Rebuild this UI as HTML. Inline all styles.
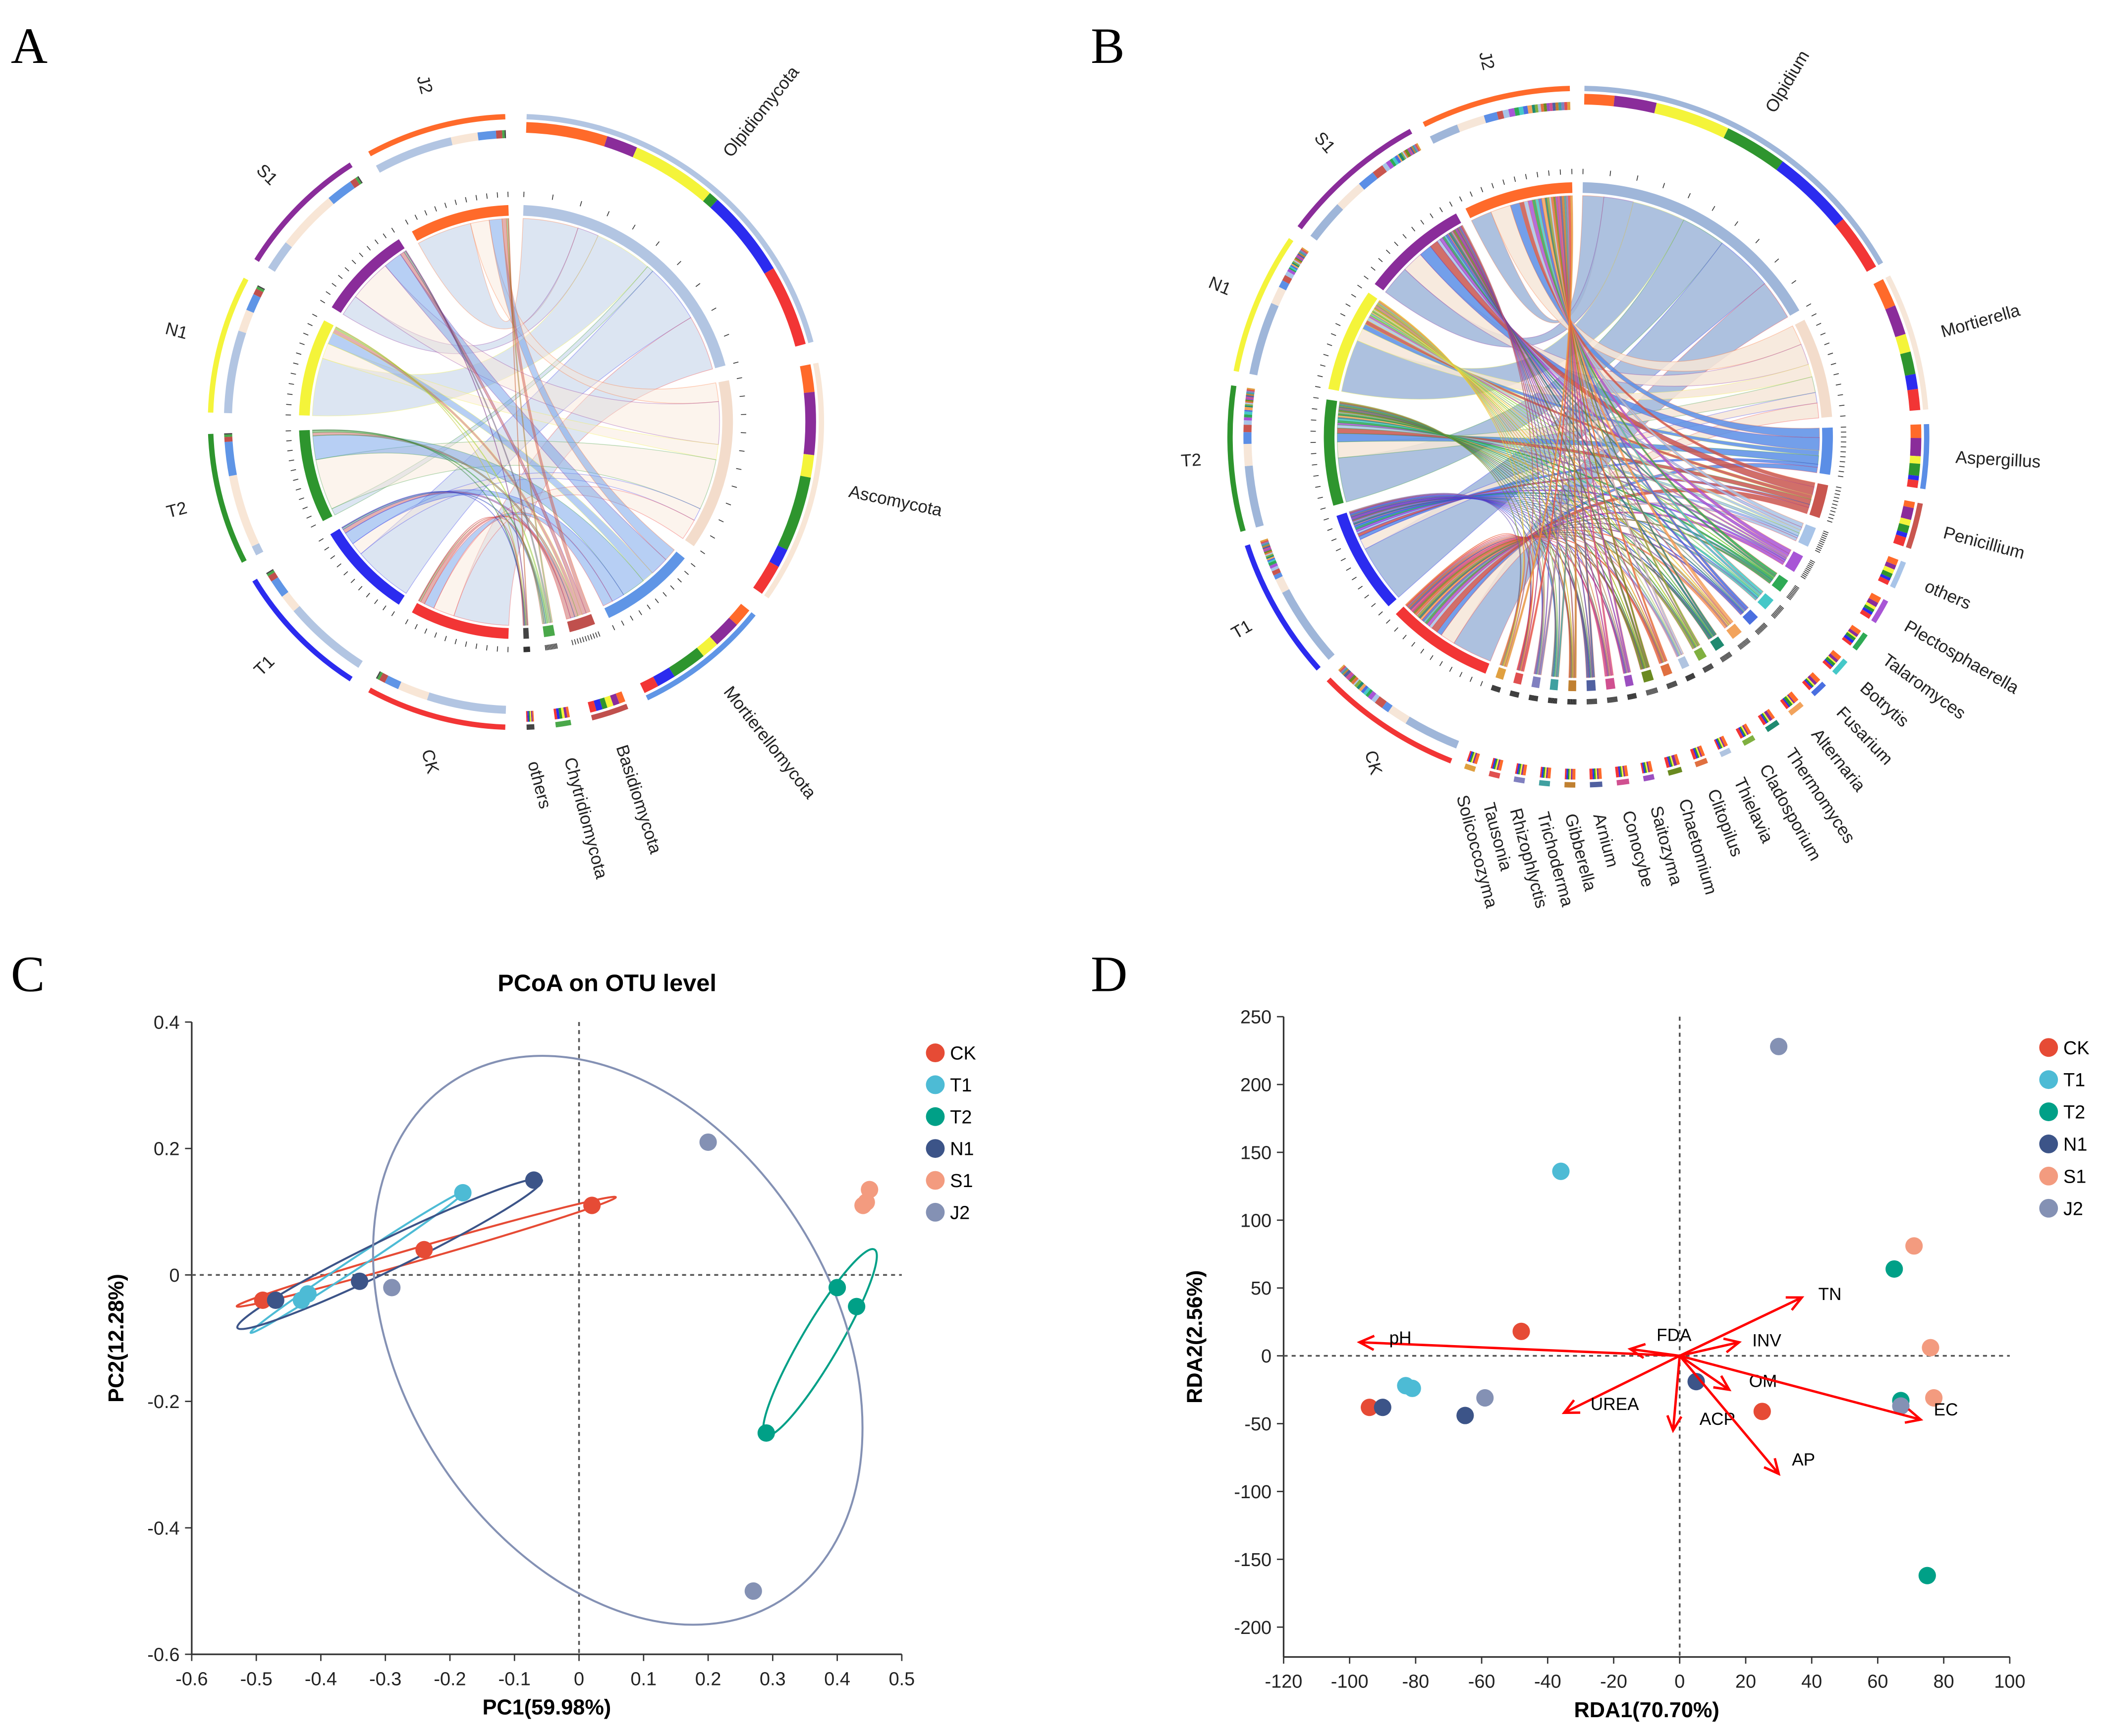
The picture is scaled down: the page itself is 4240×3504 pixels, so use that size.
<!DOCTYPE html>
<html><head><meta charset="utf-8">
<style>
html,body{margin:0;padding:0;background:#fff;}
svg{display:block;font-family:"Liberation Sans",Arial,sans-serif;}
</style></head>
<body>
<svg id="fig" width="4240" height="3504" viewBox="0 0 1568 1296" xmlns="http://www.w3.org/2000/svg">
<rect x="0" y="0" width="1568" height="1296" fill="#fff"/>
<g font-family="Liberation Serif,serif" font-size="38">
<text x="8" y="47">A</text>
<text x="814" y="47">B</text>
<text x="8" y="740">C</text>
<text x="814" y="740">D</text>
</g>
<g id="chordA"></g>
<g id="chordB"></g>
<g id="pcoa"></g>
<g id="rda"></g>
</svg>
<script>
// ---------- DATA ----------
const samples = ['CK','T1','T2','N1','S1','J2'];
const sampleColors = ['#f23535','#2b2bef','#2e952e','#f4f43a','#8a2c9a','#ff6a2a'];

const phylaA = ['Olpidiomycota','Ascomycota','Mortierellomycota','Basidiomycota','Chytridiomycota','others'];
const phylaColorsA = ['#b2c5e2','#f8e6d6','#5f95e6','#c0504d','#4aa84a','#444444'];
const abundA_CK = [65,25,12,5,2,1];
const abundA_T1 = [70,15,15,5,2,1];
const abundA_T2 = [8,60,28,4,2,1];
const abundA_N1 = [68,18,14,5,2,1];
const abundA_S1 = [25,50,22,5,2,1];
const abundA_J2 = [65,22,15,5,2,1];

const generaB = ['Olpidium','Mortierella','Aspergillus','Penicillium','others','Plectosphaerella','Talaromyces','Botrytis','Fusarium','Alternaria','Thermomyces','Cladosporium','Thielavia','Clitopilus','Chaetomium','Saitozyma','Conocybe','Arnium','Gibberella','Trichoderma','Rhizophlyctis','Tausonia','Solicoccozyma'];
const generaColorsB = ['#9fb6d9','#f6e6d8','#5b8ee6','#c9564f','#a8c4e8','#a855d6','#2eaa55','#45c8c8','#4a6fe0','#f2a35c','#1f8a70','#80b040','#b0c4e0','#e07040','#6a8a20','#9b4fc0','#d05090','#5060a0','#c08030','#40a0a0','#8080c0','#e05050','#e0a040'];
const abundB_CK = [38,14,5,6,3,3,2,2,2,2,2,2,1,2,2,1,2,2,1,1,1,1,1];
const abundB_T1 = [55,10,3,3,2,2,2,1,1,1,1,1,1,1,1,1,1,1,1,1,1,1,1];
const abundB_T2 = [42,15,8,5,3,2,2,2,1,2,1,1,1,1,1,1,1,1,1,1,1,1,1];
const abundB_N1 = [50,12,5,4,3,2,1,1,1,1,1,1,1,1,1,1,1,1,1,1,1,1,1];
const abundB_S1 = [28,20,12,8,3,3,2,2,2,1,2,1,1,1,2,1,1,1,1,1,1,1,1];
const abundB_J2 = [20,19,9,4,4,4,3,3,3,3,2,2,2,2,2,2,2,2,2,2,2,2,2];

// PCoA
const pcoaTicksX = [-0.6,-0.5,-0.4,-0.3,-0.2,-0.1,0,0.1,0.2,0.3,0.4,0.5];
const pcoaTicksY = [0.4,0.2,0,-0.2,-0.4,-0.6];
const pc1_CK = [-0.49,-0.24,0.02], pc2_CK = [-0.04,0.04,0.11];
const pc1_T1 = [-0.43,-0.42,-0.18], pc2_T1 = [-0.04,-0.03,0.13];
const pc1_T2 = [0.40,0.43,0.29], pc2_T2 = [-0.02,-0.05,-0.25];
const pc1_N1 = [-0.47,-0.34,-0.07], pc2_N1 = [-0.04,-0.01,0.15];
const pc1_S1 = [0.44,0.445,0.45], pc2_S1 = [0.11,0.115,0.135];
const pc1_J2 = [0.20,-0.29,0.27], pc2_J2 = [0.21,-0.02,-0.50];

// RDA
const rdaTicksX = [-120,-100,-80,-60,-40,-20,0,20,40,60,80,100];
const rdaTicksY = [250,200,150,100,50,0,-50,-100,-150,-200];
const rda1_CK = [-94,-48,25], rda2_CK = [-38,18,-41];
const rda1_T1 = [-83,-81,-36], rda2_T1 = [-22,-24,136];
const rda1_T2 = [65,67,75], rda2_T2 = [64,-33,-162];
const rda1_N1 = [-90,-65,5], rda2_N1 = [-38,-44,-19];
const rda1_S1 = [71,76,77], rda2_S1 = [81,6,-31];
const rda1_J2 = [-59,67,30], rda2_J2 = [-31,-37,228];
const envNames = ['pH','FDA','INV','TN','OM','UREA','ACP','AP','EC'];
const envX = [-97,-15,18,37,15,-35,-2,30,73];
const envY = [10,5,10,43,-25,-42,-55,-87,-47];
const envLabelX = [-88,-7,22,42,21,-27,6,34,77];
const envLabelY = [14,16,12,46,-18,-35,-46,-76,-39];

// ---------- HELPERS ----------
const NS='http://www.w3.org/2000/svg';
function mk(parent, tag, attrs, text){
  const e=document.createElementNS(NS,tag);
  for(const k in attrs) e.setAttribute(k,attrs[k]);
  if(text!==undefined) e.textContent=text;
  parent.appendChild(e); return e;
}
function pol(cx,cy,r,a){const t=a*Math.PI/180;return [cx+r*Math.sin(t),cy-r*Math.cos(t)];}
function band(cx,cy,r1,r2,a1,a2){
  const p1=pol(cx,cy,r2,a1),p2=pol(cx,cy,r2,a2),p3=pol(cx,cy,r1,a2),p4=pol(cx,cy,r1,a1);
  const lg=(a2-a1)>180?1:0;
  return `M${p1}A${r2},${r2} 0 ${lg} 1 ${p2}L${p3}A${r1},${r1} 0 ${lg} 0 ${p4}Z`;
}
function ribbon(cx,cy,r,a1,a2,b1,b2){
  const P=(a)=>pol(cx,cy,r,a);
  return `M${P(a1)}A${r},${r} 0 0 1 ${P(a2)}Q${cx},${cy} ${P(b1)}A${r},${r} 0 0 1 ${P(b2)}Q${cx},${cy} ${P(a1)}Z`;
}

function chord(g,o){
  const {cx,cy,R,taxa,tcol,rows,start,gap,ribOp,labelFs}=o;
  const nT=taxa.length,nS=samples.length;
  const tTot=taxa.map((_,j)=>rows.reduce((s,r)=>s+r[j],0));
  const sTot=rows.map(r=>r.reduce((s,v)=>s+v,0));
  const total=tTot.reduce((a,b)=>a+b,0)+sTot.reduce((a,b)=>a+b,0);
  const per=(360-gap*(nT+nS))/total;
  let a=start; const tSeg=[],sSeg=[];
  for(let j=0;j<nT;j++){tSeg.push([a,a+tTot[j]*per]);a+=tTot[j]*per+gap;}
  for(let i=0;i<nS;i++){sSeg.push([a,a+sTot[i]*per]);a+=sTot[i]*per+gap;}
  const sCur=sSeg.map(s=>s[0]); const tCur=tSeg.map(t=>t[0]);
  const rib=mk(g,'g',{});
  
  
  const tStack=[];
  for(let j=0;j<nT;j++){
    for(let i=nS-1;i>=0;i--){
      const w=rows[i][j]*per; if(w<=0) continue;
      const a1=sCur[i],a2=a1+w; sCur[i]=a2;
      const b1=tCur[j],b2=b1+w; tCur[j]=b2;
      tStack.push([j,i,b1,b2]);
      const p=mk(rib,'path',{d:ribbon(cx,cy,R,a1,a2,b1,b2),fill:tcol[j],'fill-opacity':ribOp,stroke:sampleColors[i],'stroke-opacity':0.35,'stroke-width':0.5});
      
      
    }
  }
  for(let j=0;j<nT;j++){
    const [a1,a2]=tSeg[j];
    const p=mk(g,'path',{d:band(cx,cy,R+2,R+10,a1,a2),fill:tcol[j]==='#f8e6d6'||tcol[j]==='#f6e6d8'?'#f3dccb':tcol[j]});
    
    
    const q=mk(g,'path',{d:band(cx,cy,o.ro1+10,o.ro2+6,a1,a2),fill:tcol[j]});
    
    
    for(let k=0;k<=10;k++){
      const ang=a1+(a2-a1)*k/10;
      const p1=pol(cx,cy,R+16,ang),p2=pol(cx,cy,R+20,ang);
      mk(g,'line',{x1:p1[0],y1:p1[1],x2:p2[0],y2:p2[1],stroke:'#333','stroke-width':0.6});
    }
  }
  tStack.forEach(([j,i,b1,b2])=>{
    const p=mk(g,'path',{d:band(cx,cy,o.ro1,o.ro2,b1,b2),fill:sampleColors[i]});
    
    
  });
  for(let i=0;i<nS;i++){
    const [a1,a2]=sSeg[i];
    const p=mk(g,'path',{d:band(cx,cy,R+2,R+10,a1,a2),fill:sampleColors[i]});
    
    
    const q=mk(g,'path',{d:band(cx,cy,o.ro1+10,o.ro2+6,a1,a2),fill:sampleColors[i]});
    
    
    let c=a1;
    for(let j=0;j<nT;j++){
      const w=rows[i][j]*per;
      mk(g,'path',{d:band(cx,cy,o.ro1-4,o.ro1+2,c,c+w),fill:tcol[j]});
      c+=w;
    }
    for(let k=0;k<=10;k++){
      const ang=a1+(a2-a1)*k/10;
      const p1=pol(cx,cy,R+16,ang),p2=pol(cx,cy,R+20,ang);
      mk(g,'line',{x1:p1[0],y1:p1[1],x2:p2[0],y2:p2[1],stroke:'#333','stroke-width':0.6});
    }
  }
  const lab=(name,a1,a2)=>{
    const m=(a1+a2)/2; const p=pol(cx,cy,o.rl,m);
    let rot=m-90, anchor='start';
    if(m>215){rot=m+90;anchor='end';}
    else if(rot>75){rot=75;}
    const t=mk(g,'text',{x:p[0],y:p[1],'font-size':labelFs,'text-anchor':anchor,'dominant-baseline':'middle',transform:`rotate(${rot} ${p[0]} ${p[1]})`,fill:'#222'},name);
    
    
  };
  taxa.forEach((n,j)=>lab(n,tSeg[j][0],tSeg[j][1]));
  samples.forEach((n,i)=>lab(n,sSeg[i][0],sSeg[i][1]));
}

chord(document.getElementById('chordA'),{cx:385,cy:315,R:152,taxa:phylaA,tcol:phylaColorsA,
  rows:[abundA_CK,abundA_T1,abundA_T2,abundA_N1,abundA_S1,abundA_J2],start:2,gap:4,ribOp:0.45,
  ro1:216,ro2:224,rl:254,labelFs:13});
chord(document.getElementById('chordB'),{cx:1178,cy:326,R:180,taxa:generaB,tcol:generaColorsB,
  rows:[abundB_CK,abundB_T1,abundB_T2,abundB_N1,abundB_S1,abundB_J2],start:1,gap:2.4,ribOp:0.85,
  ro1:248,ro2:256,rl:282,labelFs:13});

// ---------- SCATTER ----------
function scatter(g,o){
  const sx=v=>o.x0+(v-o.xmin)/(o.xmax-o.xmin)*(o.x1-o.x0);
  const sy=v=>o.y0+(o.ymax-v)/(o.ymax-o.ymin)*(o.y1-o.y0);
  mk(g,'line',{x1:o.x0,y1:o.y0,x2:o.x0,y2:o.y1,stroke:'#333','stroke-width':1.2});
  mk(g,'line',{x1:o.x0,y1:o.y1,x2:o.x1,y2:o.y1,stroke:'#333','stroke-width':1.2});
  o.tx.forEach(v=>{
    const x=sx(v);
    mk(g,'line',{x1:x,y1:o.y1,x2:x,y2:o.y1+5,stroke:'#333'});
    const t=mk(g,'text',{x:x,y:o.y1+23,'font-size':14,'text-anchor':'middle',fill:'#222'},String(v));
    
    
  });
  o.ty.forEach(v=>{
    const y=sy(v);
    mk(g,'line',{x1:o.x0-5,y1:y,x2:o.x0,y2:y,stroke:'#333'});
    const t=mk(g,'text',{x:o.x0-9,y:y+5,'font-size':14,'text-anchor':'end',fill:'#222'},String(v));
    
    
  });
  mk(g,'line',{x1:sx(0),y1:o.y0,x2:sx(0),y2:o.y1,stroke:'#555','stroke-dasharray':'3,3','stroke-width':1.3});
  mk(g,'line',{x1:o.x0,y1:sy(0),x2:o.x1,y2:sy(0),stroke:'#555','stroke-dasharray':'3,3','stroke-width':1.3});
  const xt=mk(g,'text',{x:(o.x0+o.x1)/2,y:o.y1+45,'font-size':16,'font-weight':'bold','text-anchor':'middle'},o.xlabel);
  
  
  const yx=o.ylx, yy=(o.y0+o.y1)/2;
  const yt=mk(g,'text',{x:yx,y:yy,'font-size':16,'font-weight':'bold','text-anchor':'middle',transform:`rotate(-90 ${yx} ${yy})`},o.ylabel);
  
  
  return {sx,sy};
}
const sampleColors2=['#e64b35','#4dbbd5','#00a087','#3c5488','#f39b7f','#8491b4'];
function legend(g,x,y0,dy){
  samples.forEach((s,i)=>{
    const y=y0+i*dy;
    const c=mk(g,'circle',{cx:x,cy:y,r:7,fill:sampleColors2[i]});
    
    
    const t=mk(g,'text',{x:x+11,y:y+5,'font-size':14},s);
    
    
  });
}

// PCoA
(function(){
  const g=document.getElementById('pcoa');
  const t=mk(g,'text',{x:453,y:740,'font-size':18,'font-weight':'bold','text-anchor':'middle'},'PCoA on OTU level');
  
  
  const {sx,sy}=scatter(g,{x0:143,x1:673,y0:763,y1:1235,xmin:-0.6,xmax:0.5,ymin:-0.6,ymax:0.4,tx:pcoaTicksX,ty:pcoaTicksY,xlabel:'PC1(59.98%)',ylabel:'PC2(12.28%)',ylx:92});
  const X=[pc1_CK,pc1_T1,pc1_T2,pc1_N1,pc1_S1,pc1_J2], Y=[pc2_CK,pc2_T1,pc2_T2,pc2_N1,pc2_S1,pc2_J2];
  X.forEach((xs,i)=>{
    if(samples[i]==='S1') return;
    const px=xs.map(sx), py=Y[i].map(sy), n=px.length;
    const mx=px.reduce((a,b)=>a+b)/n, my=py.reduce((a,b)=>a+b)/n;
    let sxx=0,syy=0,sxy=0;
    for(let k=0;k<n;k++){sxx+=(px[k]-mx)**2;syy+=(py[k]-my)**2;sxy+=(px[k]-mx)*(py[k]-my);}
    sxx/=n-1;syy/=n-1;sxy/=n-1;
    const tr=sxx+syy, det=sxx*syy-sxy*sxy, d=Math.sqrt(Math.max(tr*tr/4-det,0));
    const l1=tr/2+d, l2=Math.max(tr/2-d,1);
    const ang=Math.atan2(l1-sxx,sxy||1e-9)*180/Math.PI;
    const k=samples[i]==='J2'?1.22:1.12;
    const e=mk(g,'ellipse',{cx:mx,cy:my,rx:k*Math.sqrt(l1)+4,ry:k*Math.sqrt(l2)+3,transform:`rotate(${ang} ${mx} ${my})`,fill:'none',stroke:sampleColors2[i],'stroke-width':1.5});
    
    
  });
  X.forEach((xs,i)=>xs.forEach((v,k)=>{
    const c=mk(g,'circle',{cx:sx(v),cy:sy(Y[i][k]),r:6.5,fill:sampleColors2[i]});
    
    
  }));
  legend(g,698,786,23.8);
})();

// RDA
(function(){
  const g=document.getElementById('rda');
  const {sx,sy}=scatter(g,{x0:958,x1:1500,y0:759,y1:1237,xmin:-120,xmax:100,ymin:-222,ymax:250,tx:rdaTicksX,ty:rdaTicksY,xlabel:'RDA1(70.70%)',ylabel:'RDA2(2.56%)',ylx:897});
  const X=[rda1_CK,rda1_T1,rda1_T2,rda1_N1,rda1_S1,rda1_J2], Y=[rda2_CK,rda2_T1,rda2_T2,rda2_N1,rda2_S1,rda2_J2];
  X.forEach((xs,i)=>xs.forEach((v,k)=>{
    const c=mk(g,'circle',{cx:sx(v),cy:sy(Y[i][k]),r:6.5,fill:sampleColors2[i]});
    
    
  }));
  const ox=sx(0), oy=sy(0);
  envNames.forEach((n,i)=>{
    const ex=sx(envX[i]), ey=sy(envY[i]);
    const a=Math.atan2(ey-oy,ex-ox);
    const h1=[ex-12*Math.cos(a-0.45),ey-12*Math.sin(a-0.45)], h2=[ex-12*Math.cos(a+0.45),ey-12*Math.sin(a+0.45)];
    const p=mk(g,'path',{d:`M${ox},${oy}L${ex},${ey}M${h1}L${ex},${ey}L${h2}`,stroke:'#f00','stroke-width':1.8,fill:'none'});
    
    
    const t=mk(g,'text',{x:sx(envLabelX[i]),y:sy(envLabelY[i])+5,'font-size':13,'text-anchor':'start'},n);
    
    
  });
  legend(g,1529,782,24);
})();
</script>
</body></html>
